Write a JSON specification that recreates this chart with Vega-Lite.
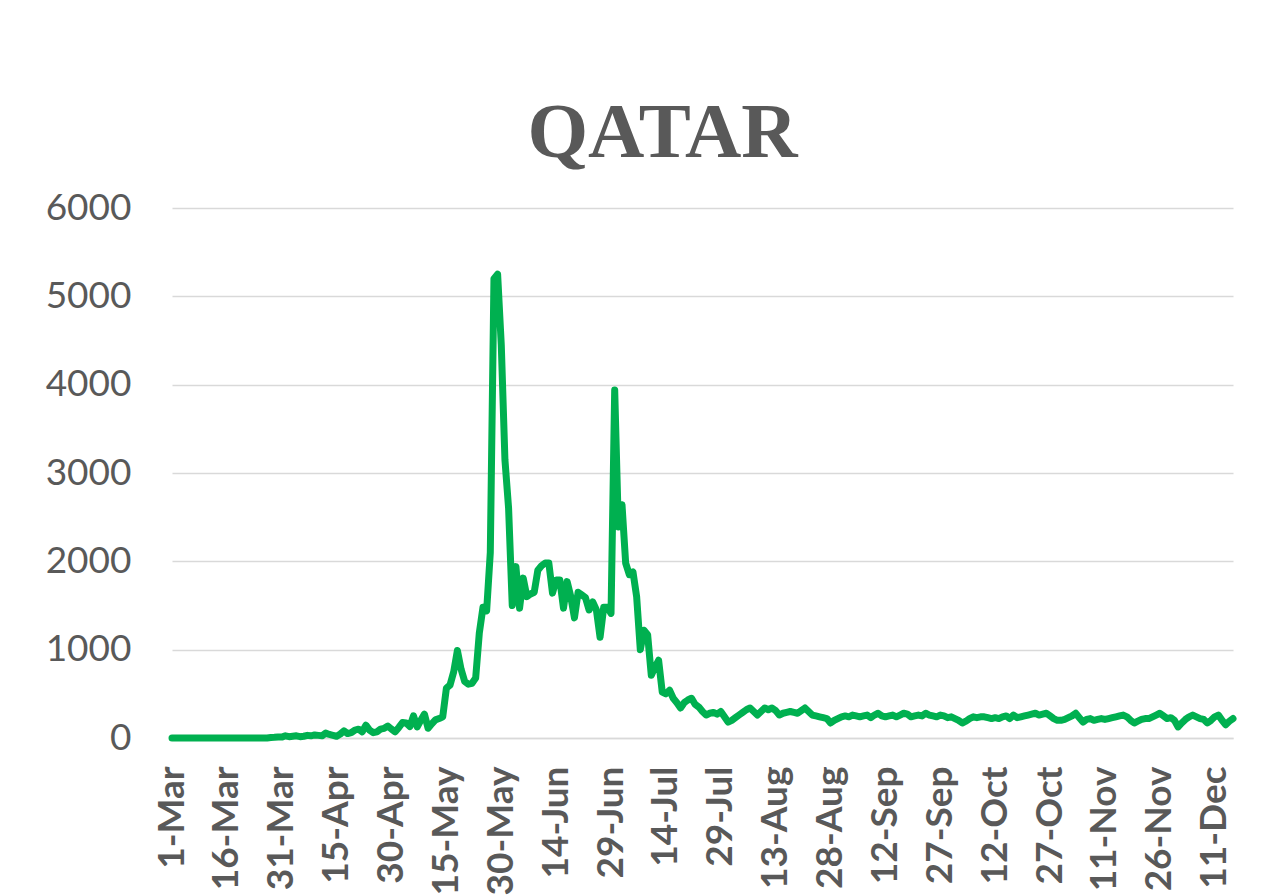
{
"$schema": "https://vega.github.io/schema/vega-lite/v6.json",
"width": 1061,
"height": 530,
"autosize": {"type": "none"},
"padding": {"left": 172, "top": 208, "right": 44, "bottom": 158},
"background": "white",
"config": {"view": {"stroke": null}},
"title": {"text": "QATAR", "font": "Liberation Serif", "fontSize": 78, "fontWeight": "bold", "color": "#595959", "anchor": "middle", "frame": "group", "dx": -40, "baseline": "alphabetic", "offset": -46},
"data": {"values": [
{"date":"2020-03-01","v":0},{"date":"2020-03-02","v":0},{"date":"2020-03-03","v":0},{"date":"2020-03-04","v":0},{"date":"2020-03-05","v":0},{"date":"2020-03-06","v":0},{"date":"2020-03-07","v":0},{"date":"2020-03-08","v":0},{"date":"2020-03-09","v":0},{"date":"2020-03-10","v":0},
{"date":"2020-03-11","v":0},{"date":"2020-03-12","v":0},{"date":"2020-03-13","v":0},{"date":"2020-03-14","v":0},{"date":"2020-03-15","v":0},{"date":"2020-03-16","v":0},{"date":"2020-03-17","v":0},{"date":"2020-03-18","v":0},{"date":"2020-03-19","v":0},{"date":"2020-03-20","v":0},
{"date":"2020-03-21","v":0},{"date":"2020-03-22","v":0},{"date":"2020-03-23","v":0},{"date":"2020-03-24","v":0},{"date":"2020-03-25","v":0},{"date":"2020-03-26","v":0},{"date":"2020-03-27","v":0},{"date":"2020-03-28","v":5},{"date":"2020-03-29","v":8},{"date":"2020-03-30","v":12},
{"date":"2020-03-31","v":10},
{"date":"2020-04-01","v":25},{"date":"2020-04-02","v":15},{"date":"2020-04-03","v":20},{"date":"2020-04-04","v":25},{"date":"2020-04-05","v":15},{"date":"2020-04-06","v":20},{"date":"2020-04-07","v":30},{"date":"2020-04-08","v":25},{"date":"2020-04-09","v":35},{"date":"2020-04-10","v":30},
{"date":"2020-04-11","v":25},{"date":"2020-04-12","v":55},{"date":"2020-04-13","v":40},{"date":"2020-04-14","v":30},{"date":"2020-04-15","v":20},{"date":"2020-04-16","v":45},{"date":"2020-04-17","v":80},{"date":"2020-04-18","v":50},{"date":"2020-04-19","v":60},{"date":"2020-04-20","v":90},
{"date":"2020-04-21","v":100},{"date":"2020-04-22","v":70},{"date":"2020-04-23","v":145},{"date":"2020-04-24","v":90},{"date":"2020-04-25","v":60},{"date":"2020-04-26","v":70},{"date":"2020-04-27","v":100},{"date":"2020-04-28","v":110},{"date":"2020-04-29","v":135},{"date":"2020-04-30","v":100},
{"date":"2020-05-01","v":70},{"date":"2020-05-02","v":120},{"date":"2020-05-03","v":175},{"date":"2020-05-04","v":170},{"date":"2020-05-05","v":130},{"date":"2020-05-06","v":250},{"date":"2020-05-07","v":125},{"date":"2020-05-08","v":200},{"date":"2020-05-09","v":270},{"date":"2020-05-10","v":110},
{"date":"2020-05-11","v":160},{"date":"2020-05-12","v":205},{"date":"2020-05-13","v":220},{"date":"2020-05-14","v":240},{"date":"2020-05-15","v":565},{"date":"2020-05-16","v":600},{"date":"2020-05-17","v":750},{"date":"2020-05-18","v":990},{"date":"2020-05-19","v":780},{"date":"2020-05-20","v":640},
{"date":"2020-05-21","v":610},{"date":"2020-05-22","v":620},{"date":"2020-05-23","v":680},{"date":"2020-05-24","v":1190},{"date":"2020-05-25","v":1480},{"date":"2020-05-26","v":1440},{"date":"2020-05-27","v":2100},{"date":"2020-05-28","v":5200},{"date":"2020-05-29","v":5250},{"date":"2020-05-30","v":4450},
{"date":"2020-05-31","v":3150},
{"date":"2020-06-01","v":2600},{"date":"2020-06-02","v":1500},{"date":"2020-06-03","v":1940},{"date":"2020-06-04","v":1470},{"date":"2020-06-05","v":1810},{"date":"2020-06-06","v":1600},{"date":"2020-06-07","v":1630},{"date":"2020-06-08","v":1650},{"date":"2020-06-09","v":1900},{"date":"2020-06-10","v":1950},
{"date":"2020-06-11","v":1980},{"date":"2020-06-12","v":1980},{"date":"2020-06-13","v":1640},{"date":"2020-06-14","v":1790},{"date":"2020-06-15","v":1790},{"date":"2020-06-16","v":1470},{"date":"2020-06-17","v":1770},{"date":"2020-06-18","v":1600},{"date":"2020-06-19","v":1360},{"date":"2020-06-20","v":1650},
{"date":"2020-06-21","v":1620},{"date":"2020-06-22","v":1590},{"date":"2020-06-23","v":1450},{"date":"2020-06-24","v":1540},{"date":"2020-06-25","v":1450},{"date":"2020-06-26","v":1140},{"date":"2020-06-27","v":1480},{"date":"2020-06-28","v":1480},{"date":"2020-06-29","v":1410},{"date":"2020-06-30","v":3940},
{"date":"2020-07-01","v":2390},{"date":"2020-07-02","v":2640},{"date":"2020-07-03","v":1980},{"date":"2020-07-04","v":1850},{"date":"2020-07-05","v":1880},{"date":"2020-07-06","v":1600},{"date":"2020-07-07","v":1000},{"date":"2020-07-08","v":1220},{"date":"2020-07-09","v":1170},{"date":"2020-07-10","v":710},
{"date":"2020-07-11","v":800},{"date":"2020-07-12","v":880},{"date":"2020-07-13","v":520},{"date":"2020-07-14","v":500},{"date":"2020-07-15","v":540},{"date":"2020-07-16","v":450},{"date":"2020-07-17","v":400},{"date":"2020-07-18","v":340},{"date":"2020-07-19","v":400},{"date":"2020-07-20","v":430},
{"date":"2020-07-21","v":450},{"date":"2020-07-22","v":380},{"date":"2020-07-23","v":350},{"date":"2020-07-24","v":300},{"date":"2020-07-25","v":260},{"date":"2020-07-26","v":280},{"date":"2020-07-27","v":290},{"date":"2020-07-28","v":270},{"date":"2020-07-29","v":300},{"date":"2020-07-30","v":240},
{"date":"2020-07-31","v":180},
{"date":"2020-08-01","v":200},{"date":"2020-08-02","v":230},{"date":"2020-08-03","v":260},{"date":"2020-08-04","v":290},{"date":"2020-08-05","v":320},{"date":"2020-08-06","v":340},{"date":"2020-08-07","v":300},{"date":"2020-08-08","v":260},{"date":"2020-08-09","v":300},{"date":"2020-08-10","v":340},
{"date":"2020-08-11","v":320},{"date":"2020-08-12","v":340},{"date":"2020-08-13","v":310},{"date":"2020-08-14","v":260},{"date":"2020-08-15","v":280},{"date":"2020-08-16","v":290},{"date":"2020-08-17","v":300},{"date":"2020-08-18","v":290},{"date":"2020-08-19","v":280},{"date":"2020-08-20","v":310},
{"date":"2020-08-21","v":340},{"date":"2020-08-22","v":300},{"date":"2020-08-23","v":260},{"date":"2020-08-24","v":250},{"date":"2020-08-25","v":240},{"date":"2020-08-26","v":230},{"date":"2020-08-27","v":220},{"date":"2020-08-28","v":170},{"date":"2020-08-29","v":200},{"date":"2020-08-30","v":220},
{"date":"2020-08-31","v":240},
{"date":"2020-09-01","v":250},{"date":"2020-09-02","v":240},{"date":"2020-09-03","v":260},{"date":"2020-09-04","v":250},{"date":"2020-09-05","v":240},{"date":"2020-09-06","v":250},{"date":"2020-09-07","v":260},{"date":"2020-09-08","v":230},{"date":"2020-09-09","v":260},{"date":"2020-09-10","v":280},
{"date":"2020-09-11","v":250},{"date":"2020-09-12","v":240},{"date":"2020-09-13","v":250},{"date":"2020-09-14","v":260},{"date":"2020-09-15","v":240},{"date":"2020-09-16","v":260},{"date":"2020-09-17","v":280},{"date":"2020-09-18","v":270},{"date":"2020-09-19","v":240},{"date":"2020-09-20","v":250},
{"date":"2020-09-21","v":260},{"date":"2020-09-22","v":250},{"date":"2020-09-23","v":280},{"date":"2020-09-24","v":260},{"date":"2020-09-25","v":250},{"date":"2020-09-26","v":240},{"date":"2020-09-27","v":260},{"date":"2020-09-28","v":250},{"date":"2020-09-29","v":230},{"date":"2020-09-30","v":240},
{"date":"2020-10-01","v":220},{"date":"2020-10-02","v":200},{"date":"2020-10-03","v":170},{"date":"2020-10-04","v":190},{"date":"2020-10-05","v":220},{"date":"2020-10-06","v":240},{"date":"2020-10-07","v":230},{"date":"2020-10-08","v":240},{"date":"2020-10-09","v":240},{"date":"2020-10-10","v":230},
{"date":"2020-10-11","v":220},{"date":"2020-10-12","v":230},{"date":"2020-10-13","v":220},{"date":"2020-10-14","v":240},{"date":"2020-10-15","v":250},{"date":"2020-10-16","v":220},{"date":"2020-10-17","v":260},{"date":"2020-10-18","v":230},{"date":"2020-10-19","v":240},{"date":"2020-10-20","v":250},
{"date":"2020-10-21","v":260},{"date":"2020-10-22","v":270},{"date":"2020-10-23","v":280},{"date":"2020-10-24","v":260},{"date":"2020-10-25","v":270},{"date":"2020-10-26","v":280},{"date":"2020-10-27","v":250},{"date":"2020-10-28","v":220},{"date":"2020-10-29","v":200},{"date":"2020-10-30","v":200},
{"date":"2020-10-31","v":210},
{"date":"2020-11-01","v":230},{"date":"2020-11-02","v":250},{"date":"2020-11-03","v":280},{"date":"2020-11-04","v":230},{"date":"2020-11-05","v":180},{"date":"2020-11-06","v":210},{"date":"2020-11-07","v":220},{"date":"2020-11-08","v":200},{"date":"2020-11-09","v":210},{"date":"2020-11-10","v":220},
{"date":"2020-11-11","v":210},{"date":"2020-11-12","v":220},{"date":"2020-11-13","v":230},{"date":"2020-11-14","v":240},{"date":"2020-11-15","v":250},{"date":"2020-11-16","v":260},{"date":"2020-11-17","v":240},{"date":"2020-11-18","v":200},{"date":"2020-11-19","v":170},{"date":"2020-11-20","v":190},
{"date":"2020-11-21","v":210},{"date":"2020-11-22","v":220},{"date":"2020-11-23","v":220},{"date":"2020-11-24","v":240},{"date":"2020-11-25","v":260},{"date":"2020-11-26","v":280},{"date":"2020-11-27","v":250},{"date":"2020-11-28","v":220},{"date":"2020-11-29","v":230},{"date":"2020-11-30","v":200},
{"date":"2020-12-01","v":125},{"date":"2020-12-02","v":170},{"date":"2020-12-03","v":210},{"date":"2020-12-04","v":240},{"date":"2020-12-05","v":260},{"date":"2020-12-06","v":240},{"date":"2020-12-07","v":220},{"date":"2020-12-08","v":210},{"date":"2020-12-09","v":170},{"date":"2020-12-10","v":200},
{"date":"2020-12-11","v":240},{"date":"2020-12-12","v":260},{"date":"2020-12-13","v":200},{"date":"2020-12-14","v":150},{"date":"2020-12-15","v":190},{"date":"2020-12-16","v":220}
]},
"mark": {"type": "line", "color": "#00B050", "strokeWidth": 7, "strokeJoin": "round", "strokeCap": "round"},
"encoding": {
"x": {"field": "date", "type": "temporal", "timeUnit": "utcyearmonthdate",
 "scale": {"nice": false},
 "axis": {"title": null, "values": [1583020800000,1584316800000,1585612800000,1586908800000,1588204800000,1589500800000,1590796800000,1592092800000,1593388800000,1594684800000,1595980800000,1597276800000,1598572800000,1599868800000,1601164800000,1602460800000,1603756800000,1605052800000,1606348800000,1607644800000],
  "format": "%-d-%b", "labelAngle": -90, "labelAlign": "right", "labelBaseline": "middle", "labelFont": "Lato", "labelFontWeight": "bold", "labelFontSize": 37, "labelColor": "#595959", "labelPadding": 28, "labelOverlap": false, "labelFlush": false, "labelBound": false,
  "ticks": false, "grid": false, "domain": true, "domainColor": "#D9D9D9", "domainWidth": 1.5}},
"y": {"field": "v", "type": "quantitative",
 "scale": {"domain": [0, 6000], "nice": false},
 "axis": {"title": null, "values": [0,1000,2000,3000,4000,5000,6000], "format": "d", "labelFont": "Lato", "labelFontSize": 37, "labelColor": "#595959", "labelPadding": 41, "ticks": false, "domain": false, "grid": true, "gridColor": "#D9D9D9", "gridWidth": 1.5}}
}
}
